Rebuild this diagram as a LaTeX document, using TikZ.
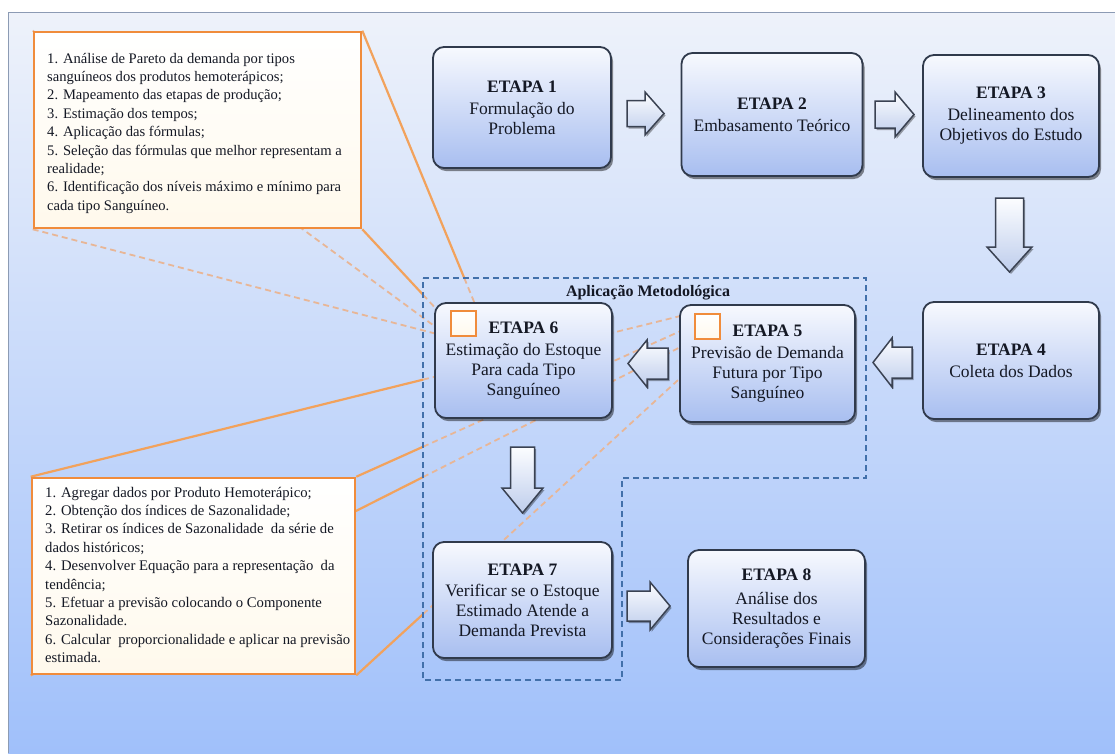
\documentclass[tikz,border=0pt]{standalone}
\usepackage{fontspec}
\setmainfont{Liberation Serif}
\usetikzlibrary{shadows,calc}
\pgfdeclarelayer{panel}
\pgfdeclarelayer{lines}
\pgfsetlayers{panel,lines,main}
\definecolor{panelTop}{RGB}{238,242,250}
\definecolor{panelBot}{RGB}{160,192,250}
\definecolor{panelEdge}{RGB}{140,155,180}
\definecolor{boxTop}{RGB}{247,249,254}
\definecolor{boxBot}{RGB}{168,190,240}
\definecolor{boxLine}{RGB}{48,58,76}
\definecolor{callOrange}{RGB}{240,140,60}
\definecolor{lineOrange}{RGB}{242,162,92}
\definecolor{dashOrange}{RGB}{232,182,150}
\definecolor{frameBlue}{RGB}{66,112,170}
\definecolor{arrTop}{RGB}{252,253,255}
\definecolor{arrBot}{RGB}{190,205,236}
\definecolor{arrLine}{RGB}{58,66,82}
\definecolor{cream}{RGB}{255,249,236}
\definecolor{txt}{RGB}{20,24,36}
\begin{document}
\begin{tikzpicture}[x=1pt,y=-1pt,
  etapa/.style={draw=boxLine, line width=1.8pt, rounded corners=11pt,
    top color=boxTop, bottom color=boxBot, align=center, text=txt,
    font=\fontsize{17.5}{20}\selectfont, inner sep=0pt,
    drop shadow={shadow xshift=2pt, shadow yshift=-3pt, opacity=.45, fill=black}},
  callbox/.style={draw=callOrange, line width=2.6pt, top color=white,
    bottom color=cream, inner sep=0pt},
  calltext/.style={align=left, text=txt, inner sep=0pt, anchor=north west},
  sq/.style={draw=callOrange, line width=2.6pt, top color=white,
    bottom color=cream, minimum size=25pt, inner sep=0pt},
  blockarrow/.style={draw=arrLine, line width=1.5pt, top color=arrTop,
    bottom color=arrBot, line join=miter,
    drop shadow={shadow xshift=1.5pt, shadow yshift=-2pt, opacity=.35, fill=black}},
  frameline/.style={draw=frameBlue, line width=1.8pt, dash pattern=on 6pt off 4pt},
  solidcall/.style={draw=lineOrange, line width=2.2pt},
  dashcall/.style={draw=dashOrange, line width=1.8pt, dash pattern=on 6pt off 4pt}
]
\useasboundingbox (0,0) rectangle (1115,753);
\begin{pgfonlayer}{panel}
  \fill[top color=panelTop, bottom color=panelBot] (8,12) rectangle (1115,753);
  \draw[draw=panelEdge, line width=1pt] (1115,12) -- (8,12) -- (8,753);
\end{pgfonlayer}

% frame corners
\coordinate (fTL) at (423,278);
\coordinate (fTR) at (866,278);
\coordinate (fMR) at (866,478);
\coordinate (fMI) at (622,478);
\coordinate (fBI) at (622,680);
\coordinate (fBL) at (423,680);

% callout boxes
\node[callbox, minimum width=327pt, minimum height=196pt] (A) at (197.5,130) {};
\node[calltext, font=\fontsize{14.6}{18.4}\selectfont] (Atext) at (47,50)
 {\strut 1. Análise de Pareto da demanda por tipos\\
  sanguíneos dos produtos hemoterápicos;\\
  2. Mapeamento das etapas de produção;\\
  3. Estimação dos tempos;\\
  4. Aplicação das fórmulas;\\
  5. Seleção das fórmulas que melhor representam a\\
  realidade;\\
  6. Identificação dos níveis máximo e mínimo para\\
  cada tipo Sanguíneo.};

\node[callbox, minimum width=323pt, minimum height=196pt] (B) at (193.5,576) {};
\node[calltext, font=\fontsize{14.7}{18.4}\selectfont] (Btext) at (45,484)
 {\strut 1. Agregar dados por Produto Hemoterápico;\\
  2. Obtenção dos índices de Sazonalidade;\\
  3. Retirar os índices de Sazonalidade \ da série de\\
  dados históricos;\\
  4. Desenvolver Equação para a representação \ da\\
  tendência;\\
  5. Efetuar a previsão colocando o Componente\\
  Sazonalidade.\\
  6. Calcular \ proporcionalidade e aplicar na previsão\\
  estimada.};

% frame
\draw[frameline] (fTL) -- (fTR) -- (fMR) -- (fMI) -- (fBI) -- (fBL) -- cycle;

% ETAPA boxes
\node[etapa, minimum width=178pt, minimum height=121pt] (e1) at (522,107.5)
  {\textbf{ETAPA 1}\\[2pt]Formulação do\\Problema};
\node[etapa, minimum width=181pt, minimum height=123pt] (e2) at (772,114.5)
  {\textbf{ETAPA 2}\\[2pt]Embasamento Teórico};
\node[etapa, minimum width=176pt, minimum height=122pt] (e3) at (1011,116)
  {\textbf{ETAPA 3}\\[2pt]Delineamento dos\\Objetivos do Estudo};
\node[etapa, minimum width=176pt, minimum height=117pt] (e4) at (1011,360.5)
  {\textbf{ETAPA 4}\\[2pt]Coleta dos Dados};
\node[etapa, minimum width=175pt, minimum height=117pt] (e5) at (767.5,363.5)
  {\textbf{ETAPA 5}\\[2pt]Previsão de Demanda\\Futura por Tipo\\Sanguíneo};
\node[etapa, minimum width=177pt, minimum height=115pt] (e6) at (523.5,360.5)
  {\textbf{ETAPA 6}\\[2pt]Estimação do Estoque\\Para cada Tipo\\Sanguíneo};
\node[etapa, minimum width=179pt, minimum height=116pt] (e7) at (522.5,600)
  {\textbf{ETAPA 7}\\[1pt]Verificar se o Estoque\\Estimado Atende a\\Demanda Prevista};
\node[etapa, minimum width=177pt, minimum height=117pt] (e8) at (776.5,608.5)
  {\textbf{ETAPA 8}\\[4pt]Análise dos\\Resultados e\\Considerações Finais};

% block arrows
\draw[blockarrow] (627,100.5) -- (645,100.5) -- (645,92) -- (664,113.5) -- (645,135) -- (645,126.5) -- (627,126.5) -- cycle;
\draw[blockarrow] (875,101) -- (895,101) -- (895,92) -- (914,114.5) -- (895,137) -- (895,128) -- (875,128) -- cycle;
\draw[blockarrow] (995.5,198) -- (1023.5,198) -- (1023.5,247) -- (1032,247) -- (1009.5,272) -- (987,247) -- (995.5,247) -- cycle;
\draw[blockarrow] (912,347) -- (892,347) -- (892,338) -- (873,362.5) -- (892,387) -- (892,378) -- (912,378) -- cycle;
\draw[blockarrow] (668,348) -- (647,348) -- (647,340) -- (628,363.5) -- (647,387) -- (647,379) -- (668,379) -- cycle;
\draw[blockarrow] (510.5,447) -- (534.5,447) -- (534.5,488) -- (543,488) -- (522.5,513) -- (502,488) -- (510.5,488) -- cycle;
\draw[blockarrow] (627,591) -- (650,591) -- (650,582) -- (670,606) -- (650,630) -- (650,621) -- (627,621) -- cycle;

% small callout squares
\node[sq] (s6) at (463.5,323.5) {};
\node[sq] (s5) at (707.5,326.5) {};

% label
\node[font=\bfseries\fontsize{16}{18}\selectfont, text=txt, inner sep=0pt] (lab) at (648,293) {Aplicação Metodológica};

% callout lines
\begin{pgfonlayer}{lines}
  \coordinate (cANE) at (intersection of A.north east--s6.north east and fTL--fTR);
  \coordinate (cASE) at (intersection of A.south east--s6.west and fTL--fBL);
  \coordinate (cBNW) at (intersection of B.north west--s5.north west and fTL--fBL);
  \coordinate (cBNE) at (intersection of B.north east--s5.north east and fTL--fBL);
  \coordinate (cBSE) at (intersection of B.south east--s5.south east and fTL--fBL);
  \coordinate (cBSW) at (intersection of B.south west--s5.south west and fTL--fBL);
  \draw[dashcall] (A.north west) -- (s6.south west);
  \draw[dashcall] (A.south west) -- (s6.south west);
  \draw[dashcall] (cANE) -- (s6.north east);
  \draw[dashcall] (cASE) -- (s6.west);
  \draw[dashcall] (cBNW) -- (s5.north west);
  \draw[dashcall] (cBNE) -- (s5.north east);
  \draw[dashcall] (cBSE) -- (s5.south east);
  \draw[dashcall] (cBSW) -- (s5.south west);
  \draw[solidcall] (A.north east) -- (cANE);
  \draw[solidcall] (A.south east) -- (cASE);
  \draw[solidcall] (B.north west) -- (cBNW);
  \draw[solidcall] (B.north east) -- (cBNE);
  \draw[solidcall] (B.south east) -- (cBSE);
  \draw[solidcall] (B.south west) -- (cBSW);
\end{pgfonlayer}
\end{tikzpicture}
\end{document}
